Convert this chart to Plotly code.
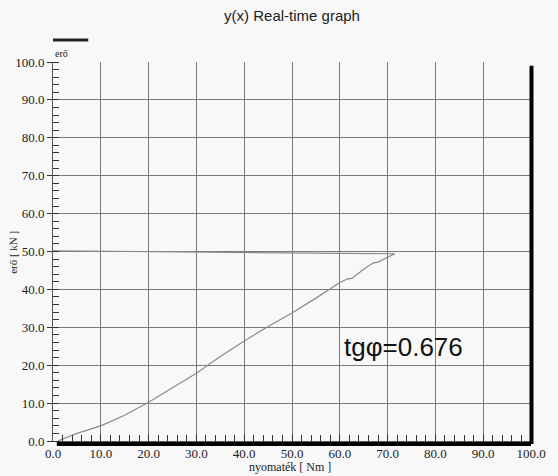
import plotly.graph_objects as go

# Loading curve (nyomaték vs erő)
load_x = [1.0, 5.0, 10.0, 15.0, 20.0, 25.0, 30.0, 35.0, 40.0, 45.0, 50.0, 55.0,
          60.0, 61.7, 62.5, 65.0, 67.0, 68.0, 70.0, 71.5]
load_y = [0.0, 2.0, 4.0, 6.8, 10.2, 14.0, 17.9, 22.3, 26.4, 30.2, 33.8, 37.7,
          41.8, 42.8, 42.9, 45.3, 47.0, 47.2, 48.5, 49.3]
# Return line
ret_x = [71.5, 60.0, 50.0, 30.0, 10.0, 0.0]
ret_y = [49.4, 49.5, 49.6, 49.8, 50.0, 50.2]

x_ticks = [0, 10, 20, 30, 40, 50, 60, 70, 80, 90, 100]
y_ticks = [0, 10, 20, 30, 40, 50, 60, 70, 80, 90, 100]
title_text = "y(x) Real-time graph"
series_name = "erő"
x_title = "nyomaték [ Nm ]"
y_title = "erő [ kN ]"
note_text = "tgφ=0.676"

serif = "'Liberation Serif', 'Times New Roman', serif"
sans = "'Liberation Sans', Arial, sans-serif"

fig = go.Figure()
fig.add_trace(go.Scatter(x=load_x + ret_x, y=load_y + ret_y, mode="lines",
                         line=dict(color="#8a8a8a", width=1.2),
                         name=series_name, showlegend=False))

axis_common = dict(
    showgrid=True, gridcolor="#7a7a7a", gridwidth=1, zeroline=False,
    showline=True, linecolor="#555", linewidth=1,
    tickfont=dict(family=serif, size=13, color="#222"),
    tickformat=".1f", range=[0, 100], fixedrange=True,
)
fig.update_layout(
    width=558, height=476,
    margin=dict(l=53, r=17, t=62, b=35),
    paper_bgcolor="#f8f8f8", plot_bgcolor="#f8f8f8",
    title=dict(text=title_text, x=0.5, xref="paper", y=1 - 16 / 476,
               yref="container", yanchor="middle", xanchor="center",
               font=dict(family=sans, size=15, color="#222")),
    xaxis=dict(axis_common, tickvals=x_ticks, ticks="inside", ticklen=7,
               tickcolor="#333",
               minor=dict(ticks="inside", dtick=2, ticklen=6, tickcolor="#333")),
    yaxis=dict(axis_common, tickvals=y_ticks, ticks="outside", ticklen=5,
               tickcolor="#333",
               minor=dict(ticks="inside", dtick=2, ticklen=6, tickcolor="#333")),
    showlegend=False,
)

# Shadow frame (thick bottom and right lines)
fig.add_shape(type="line", xref="x domain", yref="y domain",
              x0=0.008, x1=1.0, y0=-0.008, y1=-0.008,
              line=dict(color="black", width=4))
fig.add_shape(type="line", xref="x domain", yref="y domain",
              x0=1.001, x1=1.001, y0=-0.008, y1=0.99,
              line=dict(color="black", width=4))

# Legend sample
fig.add_shape(type="line", xref="x domain", yref="y domain",
              x0=0.0, x1=36 / 488, y0=1 + 22 / 379, y1=1 + 22 / 379,
              line=dict(color="#222", width=3))
fig.add_annotation(text=series_name, xref="x domain", yref="y domain",
                   x=0.0, y=1 + 9 / 379, xanchor="left", yanchor="middle",
                   showarrow=False, font=dict(family=serif, size=10, color="#222"))

# Axis titles
fig.add_annotation(text=y_title, xref="paper", yref="paper",
                   x=-41 / 488, y=(441 - 252) / 379, textangle=-90,
                   xanchor="center", yanchor="middle", showarrow=False,
                   font=dict(family=serif, size=11, color="#222"))
fig.add_annotation(text=x_title, xref="paper", yref="paper",
                   x=(295 - 53) / 488, y=-(467 - 441) / 379,
                   xanchor="center", yanchor="middle", showarrow=False,
                   font=dict(family=serif, size=12, color="#222"))

# Slope note
fig.add_annotation(text=note_text, x=73.3, y=24.8, xref="x", yref="y",
                   xanchor="center", yanchor="middle", showarrow=False,
                   font=dict(family=sans, size=26, color="#111"))

fig.write_html("out.html")
